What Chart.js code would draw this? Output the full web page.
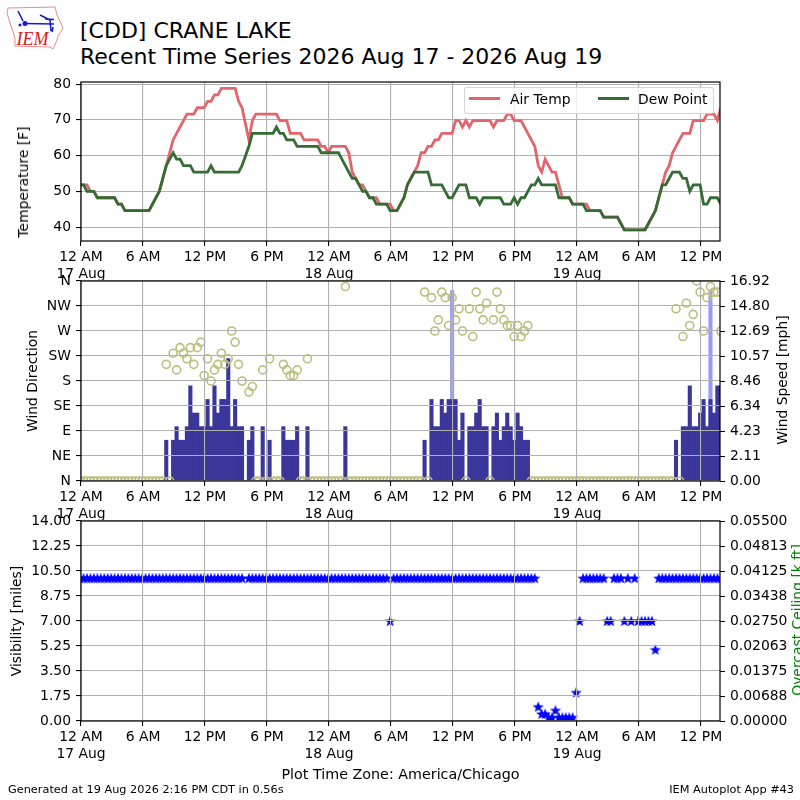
<!doctype html>
<html>
<head>
<meta charset="UTF-8">
<title>[CDD] CRANE LAKE</title>
<script src="https://cdn.jsdelivr.net/npm/chart.js@4"></script>
<style>
  html, body { margin: 0; padding: 0; background: #fff; width: 800px; height: 800px; overflow: hidden; }
  body { position: relative; font-family: "DejaVu Sans", sans-serif; color: #000; }
  canvas { position: absolute; left: 0; }
  .txt { position: absolute; white-space: nowrap; }
  .title { left: 80px; font-size: 22px; line-height: 27px; }
  .vert { transform: translate(-50%, -50%) rotate(-90deg); font-size: 13.9px; }
  #legend { left: 464px; top: 87px; width: 248px; height: 25px; background: rgba(255,255,255,0.8); border: 1px solid rgba(204,204,204,0.8); border-radius: 3px; font-size: 13.9px; }
  #legend span { position: absolute; top: 3px; }
  #legend i { position: absolute; top: 9px; width: 31px; height: 3px; }
</style>
</head>
<body>
<svg style="position:absolute;left:0;top:0" width="80" height="60" viewBox="0 0 80 60">
  <path d="M8 8 L55 7 L57 15 L63 28 L58 36 L57 40 L53 49 L50 47 L15 46 L15 38 L10 23 L7 13 Z" fill="#fff" stroke="#e88a8a" stroke-width="1"/>
  <path d="M25 23.5 L54 24" stroke="#1a1ad0" stroke-width="1.6" fill="none"/>
  <path d="M40 15 L50 20 M45 19 L54 19.5 M50 20 L51 31 M18 11 L23 21 M53 27 L52 32" stroke="#1a1ad0" stroke-width="1.6" fill="none"/>
  <circle cx="25" cy="23.5" r="2.5" fill="#1a1ad0"/>
  <circle cx="20" cy="25" r="1.5" fill="#1a1ad0"/>
  <text x="16.5" y="44.5" font-family="Liberation Serif" font-style="italic" font-size="18" fill="#d42020">IEM</text>
</svg>
<div class="txt title" style="top:17px">[CDD] CRANE LAKE</div>
<div class="txt title" style="top:43px">Recent Time Series 2026 Aug 17 - 2026 Aug 19</div>

<canvas id="tempChart" width="800" height="219" style="top:62px"></canvas>
<canvas id="windChart" width="800" height="260" style="top:261px"></canvas>
<canvas id="visChart" width="800" height="283" style="top:501px"></canvas>

<div class="txt" id="legend">
  <i style="left:4px;background:#e0656d"></i><span style="left:45px">Air Temp</span>
  <i style="left:133px;background:#356b35"></i><span style="left:173px">Dew Point</span>
</div>
<div class="txt vert" style="left:23px;top:182px">Temperature [F]</div>
<div class="txt vert" style="left:782px;top:380px">Wind Speed [mph]</div>
<div class="txt vert" style="left:797px;top:620px;color:#008000">Overcast Ceiling [k ft]</div>
<div class="txt" style="left:8px;top:783px;font-size:11.3px">Generated at 19 Aug 2026 2:16 PM CDT in 0.56s</div>
<div class="txt" style="right:6px;top:783px;font-size:11.3px">IEM Autoplot App #43</div>

<script>
// observations come every 20 minutes at :15 :35 :55, index 0 is 11:55 PM the night before
const airTemp = [
  51.8,51.8,51.8,50,50,48.2,48.2,48.2,48.2,48.2,
  48.2,46.4,46.4,44.6,44.6,44.6,44.6,44.6,44.6,44.6,
  44.6,46.4,48.2,50,53.6,57.2,60.8,64.4,66.2,68,
  69.8,71.6,71.6,71.6,73.4,73.4,73.4,75.2,75.2,77,
  77,78.8,78.8,78.8,78.8,78.8,75.2,73.4,null,64.4,
  69.8,71.6,71.6,71.6,71.6,71.6,71.6,71.6,69.8,69.8,
  69.8,66.2,66.2,66.2,66.2,64.4,64.4,64.4,64.4,64.4,
  62.6,62.6,60.8,62.6,62.6,62.6,62.6,62.6,60.8,55.4,
  53.6,51.8,51.8,50,48.2,48.2,48.2,46.4,46.4,46.4,
  46.4,44.6,44.6,46.4,48.2,51.8,53.6,55.4,57.2,60.8,
  60.8,62.6,62.6,64.4,64.4,66.2,66.2,66.2,66.2,69.8,
  69.8,68,69.8,68,69.8,69.8,69.8,69.8,69.8,69.8,
  68,69.8,69.8,69.8,71.6,71.6,69.8,69.8,69.8,68,
  66.2,64.4,62.6,57.2,55.4,59,57.2,55.4,55.4,51.8,
  48.2,48.2,48.2,46.4,46.4,46.4,46.4,46.4,44.6,44.6,
  44.6,44.6,42.8,42.8,42.8,42.8,42.8,41,39.2,39.2,
  39.2,39.2,39.2,39.2,39.2,41,42.8,44.6,48.2,51.8,
  55.4,57.2,60.8,62.6,64.4,66.2,66.2,66.2,69.8,69.8,
  69.8,69.8,71.6,71.6,71.6,69.8,73.4
];
const dewPoint = [
  51.8,51.8,50,50,50,48.2,48.2,48.2,48.2,48.2,
  48.2,46.4,46.4,44.6,44.6,44.6,44.6,44.6,44.6,44.6,
  44.6,46.4,48.2,50,53.6,57.2,59,60.8,59,59,
  57.2,57.2,57.2,55.4,55.4,55.4,55.4,55.4,57.2,55.4,
  55.4,55.4,55.4,55.4,55.4,55.4,55.4,57.2,null,62.6,
  66.2,66.2,66.2,66.2,66.2,66.2,66.2,68,66.2,66.2,
  64.4,64.4,64.4,62.6,62.6,62.6,62.6,62.6,62.6,62.6,
  60.8,60.8,60.8,60.8,60.8,60.8,59,57.2,55.4,53.6,
  53.6,51.8,50,50,48.2,48.2,46.4,46.4,46.4,46.4,
  44.6,44.6,44.6,46.4,48.2,51.8,53.6,55.4,55.4,55.4,
  55.4,55.4,51.8,51.8,51.8,51.8,50,48.2,48.2,50,
  51.8,51.8,51.8,48.2,48.2,48.2,46.4,48.2,48.2,48.2,
  48.2,48.2,48.2,46.4,46.4,46.4,48.2,46.4,48.2,48.2,
  50,51.8,51.8,53.6,51.8,51.8,51.8,51.8,51.8,48.2,
  48.2,48.2,48.2,46.4,46.4,46.4,46.4,44.6,44.6,44.6,
  44.6,44.6,42.8,42.8,42.8,42.8,42.8,41,39.2,39.2,
  39.2,39.2,39.2,39.2,39.2,41,42.8,44.6,48.2,51.8,
  51.8,53.6,55.4,55.4,55.4,53.6,53.6,50,51.8,51.8,
  51.8,46.4,46.4,48.2,48.2,48.2,46.4
];
const windSpeed = [
  0,0,0,0,0,0,0,0,0,0,
  0,0,0,0,0,0,0,0,0,0,
  0,0,0,0,0,3.45,0,3.45,4.6,3.45,
  3.45,4.6,8.05,5.75,5.75,4.6,4.6,6.9,4.6,8.05,
  5.75,6.9,6.9,10.36,4.6,6.9,4.6,4.6,null,3.45,
  4.6,0,0,4.6,0,3.45,0,0,0,4.6,
  3.45,3.45,3.45,4.6,0,0,4.6,0,0,0,
  0,0,0,0,0,0,0,4.6,0,0,
  0,0,0,0,0,0,0,0,0,0,
  0,0,0,0,0,0,0,0,0,0,
  3.45,0,6.9,4.6,4.6,6.9,5.75,6.9,6.9,6.9,
  3.45,5.75,0,4.6,4.6,5.75,6.9,4.6,4.6,0,
  4.6,5.75,3.45,4.6,5.75,4.6,3.45,5.75,4.6,3.45,
  3.45,0,0,0,0,0,0,0,0,0,
  0,0,0,0,0,0,0,0,0,0,
  0,0,0,0,0,0,0,0,0,0,
  0,0,0,0,0,0,0,0,0,0,
  0,0,0,3.45,0,4.6,4.6,8.05,4.6,4.6,
  5.75,6.9,4.6,6.9,5.75,8.05,8.05
];
const windDir = [
  0,0,0,0,0,0,0,0,0,0,
  0,0,0,0,0,0,0,0,0,0,
  0,0,0,0,0,210,0,230,200,240,
  230,220,240,210,240,250,190,220,180,200,
  210,230,210,220,270,250,210,180,null,160,
  170,0,0,200,0,220,0,0,0,210,
  200,190,190,200,0,0,220,0,0,0,
  0,0,0,0,0,0,0,350,0,0,
  0,0,0,0,0,0,0,0,0,0,
  0,0,0,0,0,0,0,0,0,0,
  340,0,330,270,290,340,330,280,330,290,
  310,270,0,310,260,340,310,290,320,0,
  290,340,310,290,280,280,260,280,260,270,
  280,0,0,0,0,0,0,0,0,0,
  0,0,0,0,0,0,0,0,0,0,
  0,0,0,0,0,0,0,0,0,0,
  0,0,0,0,0,0,0,0,0,0,
  0,0,0,310,0,260,320,280,300,360,
  340,270,330,350,340,340,270
];
const gustIndex = [108, 183];
const gustSpeed = [16.1, 16.1];
const visibility = [
  10,10,10,10,10,10,10,10,10,10,
  10,10,10,10,10,10,10,10,10,10,
  10,10,10,10,10,10,10,10,10,10,
  10,10,10,10,10,10,10,10,10,10,
  10,10,10,10,10,10,10,10,null,10,
  10,10,10,10,10,10,10,10,10,10,
  10,10,10,10,10,10,10,10,10,10,
  10,10,10,10,10,10,10,10,10,10,
  10,10,10,10,10,10,10,10,10,10,
  7,10,10,10,10,10,10,10,10,10,
  10,10,10,10,10,10,10,10,10,10,
  10,10,10,10,10,10,10,10,10,10,
  10,10,10,10,10,10,10,10,10,10,
  10,10,10,1,0.5,0.5,0.25,0.25,0.75,0.25,
  0.25,0.25,0.25,0.25,2,7,10,10,10,10,
  10,10,10,7,7,10,10,10,7,10,
  7,10,7,7,7,7,7,5,10,10,
  10,10,10,10,10,10,10,10,10,10,
  10,10,10,10,10,10,10
];
const xTicks = [0,6,12,18,24,30,36,42,48,54,60];
const dayNames = { 0: "17 Aug", 24: "18 Aug", 48: "19 Aug" };
const tempTicks = [40,50,60,70,80];
const dirTicks = [0,45,90,135,180,225,270,315,360];
const dirNames = ["N","NE","E","SE","S","SW","W","NW","N"];
const speedTicks = [0,2.115,4.23,6.345,8.46,10.575,12.69,14.805,16.92];
const speedNames = ["0.00","2.11","4.23","6.34","8.46","10.57","12.69","14.80","16.92"];
const visTicks = [0,1.75,3.5,5.25,7,8.75,10.5,12.25,14];
const visNames = ["0.00","1.75","3.50","5.25","7.00","8.75","10.50","12.25","14.00"];
const ceilTicks = [0,0.006875,0.01375,0.020625,0.0275,0.034375,0.04125,0.048125,0.055];
const ceilNames = ["0.00000","0.00688","0.01375","0.02063","0.02750","0.03438","0.04125","0.04813","0.05500"];

const obsHours = airTemp.map((_, i) => -1 / 12 + i / 3);
const series = (vals) => vals.map((v, i) => ({ x: obsHours[i], y: v }));

Chart.defaults.font.family = '"DejaVu Sans", sans-serif';
Chart.defaults.font.size = 13.9;
Chart.defaults.color = "#000";
Chart.defaults.animation = false;

const GRID = "#b0b0b0";
const tickFont = { size: 13.9, lineHeight: 1.15 };

const hourLabel = (v) => {
  const h = v % 24;
  const s = h === 0 ? "12 AM" : h === 6 ? "6 AM" : h === 12 ? "12 PM" : "6 PM";
  return dayNames[v] ? [s, dayNames[v]] : s;
};

const xAxis = (height, gridZ, title) => ({
  type: "linear",
  min: 0,
  max: 61.84,
  offset: false,
  afterFit: (s) => { s.height = height; },
  afterBuildTicks: (s) => { s.ticks = xTicks.map((v) => ({ value: v })); },
  grid: { color: GRID, lineWidth: 1.1, offset: false, z: gridZ, tickColor: "#000", tickLength: 5 },
  border: { display: false },
  ticks: {
    autoSkip: false,
    maxRotation: 0,
    padding: 3,
    // the two line midnight labels sit a little lower in the reference
    font: (ctx) => ({ size: 13.9, lineHeight: ctx.tick && ctx.tick.value % 24 === 0 ? 1.22 : 1.15 }),
    callback: hourLabel,
  },
  title: title ? { display: true, text: title, font: { size: 14.3 }, padding: 0 } : { display: false },
});

const yAxis = (opts) => ({
  type: "linear",
  position: opts.pos || "left",
  min: opts.min,
  max: opts.max,
  afterFit: (s) => { s.width = opts.pos === "right" ? 80 : 81; },
  afterBuildTicks: (s) => { s.ticks = opts.ticks.map((v) => ({ value: v })); },
  grid: opts.pos === "right"
    ? { drawOnChartArea: false, tickColor: "#000", tickLength: 5 }
    : { color: GRID, lineWidth: 1.1, z: opts.gridZ, tickColor: "#000", tickLength: 5 },
  border: { display: false },
  ticks: {
    padding: 5,
    font: tickFont,
    callback: (v) => (opts.names ? opts.names[opts.ticks.indexOf(v)] : v),
  },
  title: opts.title
    ? { display: true, text: opts.title, font: { size: 13.9 }, padding: { top: opts.titlePad, bottom: 0 } }
    : { display: false },
});

// matplotlib draws a full box round every axes, Chart.js only the axis sides
const frame = {
  id: "frame",
  afterDraw(chart) {
    const { ctx, chartArea: a } = chart;
    ctx.save();
    ctx.strokeStyle = "#000";
    ctx.lineWidth = 1.2;
    ctx.strokeRect(a.left, a.top, a.right - a.left, a.bottom - a.top);
    ctx.restore();
  },
};

const base = (right) => ({
  responsive: false,
  animation: false,
  layout: { autoPadding: false, padding: { top: 20, right: right, bottom: 0, left: 0 } },
  plugins: { legend: { display: false }, tooltip: { enabled: false } },
});

new Chart("tempChart", {
  type: "line",
  data: {
    datasets: [
      { label: "Air Temp", data: series(airTemp), borderColor: "#e0656d", borderWidth: 2.8, pointRadius: 0, spanGaps: true, tension: 0, order: 2 },
      { label: "Dew Point", data: series(dewPoint), borderColor: "#356b35", borderWidth: 2.8, pointRadius: 0, spanGaps: true, tension: 0, order: 1 },
    ],
  },
  options: {
    ...base(80),
    scales: {
      x: xAxis(40, -1),
      y: yAxis({ min: 36.1, max: 80.6, ticks: tempTicks, gridZ: -1 }),
    },
  },
  plugins: [frame],
});

new Chart("windChart", {
  type: "bar",
  data: {
    datasets: [
      {
        type: "line", label: "Wind Direction", data: series(windDir), yAxisID: "y", showLine: false,
        pointRadius: 4, pointBorderWidth: 1.6, pointBackgroundColor: "rgba(0,0,0,0)", pointBorderColor: "#bdbd7c", order: 0,
      },
      {
        label: "Wind Speed", data: series(windSpeed), yAxisID: "y2", backgroundColor: "#3a369a", borderWidth: 0,
        barPercentage: 1, categoryPercentage: 1, grouped: false, order: 1,
      },
      {
        label: "Wind Gust", data: gustIndex.map((k, i) => ({ x: obsHours[k], y: gustSpeed[i] })), yAxisID: "y2", backgroundColor: "#9999ff", borderWidth: 0,
        barThickness: 3.44, grouped: false, order: 2,
      },
    ],
  },
  options: {
    ...base(0),
    scales: {
      x: xAxis(40, 1),
      y: yAxis({ min: 0, max: 360, ticks: dirTicks, names: dirNames, gridZ: 1, title: "Wind Direction", titlePad: 24.7 }),
      y2: yAxis({ pos: "right", min: 0, max: 16.92, ticks: speedTicks, names: speedNames }),
    },
  },
  plugins: [frame],
});

// Chart.js "star" is an asterisk, the reference has filled five point stars
const star = document.createElement("canvas");
star.width = 14;
star.height = 14;
const sc = star.getContext("2d");
sc.fillStyle = "#0000ff";
sc.beginPath();
for (let i = 0; i < 10; i++) {
  const r = i % 2 ? 2.4 : 6;
  const a = -Math.PI / 2 + (i * Math.PI) / 5;
  sc.lineTo(7 + r * Math.cos(a), 7.5 + r * Math.sin(a));
}
sc.closePath();
sc.fill();

new Chart("visChart", {
  type: "line",
  data: {
    datasets: [
      { label: "Visibility", data: series(visibility), yAxisID: "y", showLine: false, pointStyle: star, pointRadius: 5 },
    ],
  },
  options: {
    ...base(0),
    scales: {
      x: xAxis(63, 1, "Plot Time Zone: America/Chicago"),
      y: yAxis({ min: 0, max: 14, ticks: visTicks, names: visNames, gridZ: 1, title: "Visibility [miles]", titlePad: 8.7 }),
      y2: yAxis({ pos: "right", min: 0, max: 0.055, ticks: ceilTicks, names: ceilNames }),
    },
  },
  plugins: [frame],
});
</script>
</body>
</html>
